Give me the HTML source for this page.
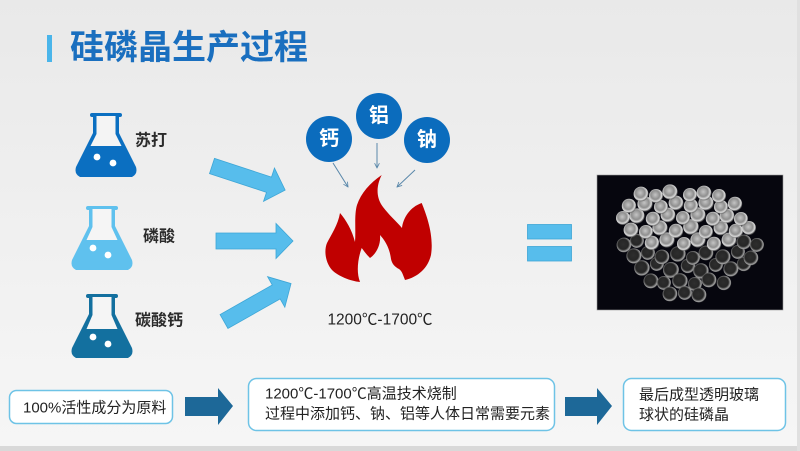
<!DOCTYPE html>
<html><head><meta charset="utf-8">
<style>
html,body{margin:0;padding:0;}
body{width:800px;height:451px;overflow:hidden;background:#efefef;}
svg{display:block;}
text{font-family:"Liberation Sans","Noto Sans CJK SC","WenQuanYi Zen Hei",sans-serif;}
</style></head>
<body>
<svg width="800" height="451" viewBox="0 0 800 451" xmlns="http://www.w3.org/2000/svg">
<defs>
<linearGradient id="bg" x1="0" y1="0" x2="0" y2="1">
<stop offset="0" stop-color="#e9e9e9"/>
<stop offset="0.6" stop-color="#f1f1f1"/>
<stop offset="1" stop-color="#f6f6f6"/>
</linearGradient>
<radialGradient id="bA" cx="0.45" cy="0.42" r="0.58">
<stop offset="0" stop-color="#c4c4c4"/>
<stop offset="0.55" stop-color="#8e8e8e"/>
<stop offset="0.82" stop-color="#dcdcdc"/>
<stop offset="1" stop-color="#555" stop-opacity="0.6"/>
</radialGradient>
<radialGradient id="bB" cx="0.45" cy="0.45" r="0.58">
<stop offset="0" stop-color="#2e2e2e"/>
<stop offset="0.6" stop-color="#262626"/>
<stop offset="0.86" stop-color="#a8a8a8"/>
<stop offset="1" stop-color="#333" stop-opacity="0.6"/>
</radialGradient>
<marker id="m" viewBox="0 0 10 10" refX="9" refY="5" markerWidth="6" markerHeight="6" orient="auto">
<path d="M1,1 L9,5 L1,9" fill="none" stroke="#5a88aa" stroke-width="1.4"/>
</marker>
</defs>

<rect x="0" y="0" width="800" height="451" fill="url(#bg)"/>
<rect x="0" y="446" width="800" height="5" fill="#d9d9d9"/>
<rect x="797" y="0" width="3" height="451" fill="#e0e0e0"/>

<!-- title -->
<rect x="47" y="35" width="5" height="27" fill="#4ab5ea"/>
<text x="70" y="48" font-size="34" font-weight="bold" fill="#1a6fbf" dominant-baseline="central">硅磷晶生产过程</text>

<!-- flask 1 -->
<g transform="translate(75,113)">
<rect x="15" y="0" width="32" height="4" rx="2" fill="#0b6fc1"/>
<path d="M18,3 L18,20 L1,54 Q-1,61 5,64 L57,64 Q63,61 61,54 L44,20 L44,3 Z" fill="#0b6fc1"/>
<path d="M21.5,3 L40.5,3 L40.5,21 L46.5,33 L15.5,33 L21.5,21 Z" fill="#f4f4f4"/>
<circle cx="22" cy="44" r="3.4" fill="#fff"/>
<circle cx="38" cy="50" r="3.4" fill="#fff"/>
</g>
<text x="135" y="141" font-size="16" font-weight="bold" fill="#2b2b2b" dominant-baseline="central">苏打</text>

<!-- flask 2 -->
<g transform="translate(71,206)">
<rect x="15" y="0" width="32" height="4" rx="2" fill="#5fc1ee"/>
<path d="M18,3 L18,20 L1,54 Q-1,61 5,64 L57,64 Q63,61 61,54 L44,20 L44,3 Z" fill="#5fc1ee"/>
<path d="M21.5,3 L40.5,3 L40.5,21 L46.5,34 L15.5,34 L21.5,21 Z" fill="#f5f5f5"/>
<circle cx="22" cy="42" r="3.4" fill="#fff"/>
<circle cx="37" cy="49" r="3.4" fill="#fff"/>
</g>
<text x="143" y="237" font-size="16" font-weight="bold" fill="#2b2b2b" dominant-baseline="central">磷酸</text>

<!-- flask 3 -->
<g transform="translate(71,294)">
<rect x="15" y="0" width="32" height="4" rx="2" fill="#13709f"/>
<path d="M18,3 L18,20 L1,54 Q-1,61 5,64 L57,64 Q63,61 61,54 L44,20 L44,3 Z" fill="#13709f"/>
<path d="M21.5,3 L40.5,3 L40.5,21 L46.5,35 L15.5,35 L21.5,21 Z" fill="#f5f5f5"/>
<circle cx="22" cy="43" r="3.4" fill="#fff"/>
<circle cx="37" cy="50" r="3.4" fill="#fff"/>
</g>
<text x="135" y="321" font-size="16" font-weight="bold" fill="#2b2b2b" dominant-baseline="central">碳酸钙</text>

<!-- light blue arrows -->
<g fill="#57bdec" stroke="#3ea6d6" stroke-width="0.8">
<polygon transform="translate(212,166) rotate(18.2)" points="0,-8 60,-8 60,-17.5 77,0 60,17.5 60,8 0,8"/>
<polygon transform="translate(216,241)" points="0,-8 60,-8 60,-17.5 77,0 60,17.5 60,8 0,8"/>
<polygon transform="translate(224,321.5) rotate(-29.5)" points="0,-8 60,-8 60,-17.5 77,0 60,17.5 60,8 0,8"/>
</g>

<!-- element circles -->
<circle cx="329" cy="139" r="23" fill="#0b6cbd"/>
<circle cx="379" cy="116" r="23" fill="#0b6cbd"/>
<circle cx="427" cy="140" r="23" fill="#0b6cbd"/>
<text x="329" y="139" font-size="20" font-weight="bold" fill="#fff" text-anchor="middle" dominant-baseline="central">钙</text>
<text x="379" y="116" font-size="20" font-weight="bold" fill="#fff" text-anchor="middle" dominant-baseline="central">铝</text>
<text x="427" y="140" font-size="20" font-weight="bold" fill="#fff" text-anchor="middle" dominant-baseline="central">钠</text>
<g stroke="#5a88aa" stroke-width="1" fill="none" marker-end="url(#m)">
<line x1="333" y1="163" x2="348" y2="187"/>
<line x1="377" y1="143" x2="377" y2="168"/>
<line x1="415" y1="170" x2="397" y2="187"/>
</g>

<!-- flame -->
<path fill="#c00000" d="M381.7,175
C376,186 376,198 383,207
C389,215 396,221 402,228
C403,218 410,207 421.7,203
C427,216 434,236 431,255
C428,268 418,277 405,280
C403,275 402,271 399,269
C395,267 392,264 391,259
C390,252 388,244 380,235
C381,245 376,254 370,258
C366,254 364,251 361.7,248
C358,258 356,272 360,282
C350,281 338,276 332,270
C325,262 324,250 327,243
C331,235 338,225 340,213
C346,220 352,230 355,242
C356,230 354,215 357,205
C361,193 370,183 381.7,175 Z"/>
<text x="380" y="320" font-size="15.5" fill="#222" text-anchor="middle" dominant-baseline="central">1200℃-1700℃</text>

<!-- equals -->
<rect x="527.5" y="224.5" width="44" height="14.5" fill="#57bdec" stroke="#3ea6d6" stroke-width="0.8"/>
<rect x="527.5" y="246.5" width="44" height="14.5" fill="#57bdec" stroke="#3ea6d6" stroke-width="0.8"/>

<!-- photo -->
<rect x="597" y="175" width="186" height="135" fill="#06060e" stroke="#9a9a9a" stroke-width="0.6"/>
<g fill="url(#bB)">
<circle cx="642" cy="268" r="7.8"/><circle cx="657" cy="264" r="7"/><circle cx="671" cy="270" r="8"/><circle cx="688" cy="266" r="7.2"/><circle cx="701" cy="271" r="7.8"/><circle cx="716" cy="265" r="7"/><circle cx="731" cy="269" r="7.6"/><circle cx="744" cy="264" r="7.2"/>
<circle cx="651" cy="281" r="7.5"/><circle cx="664" cy="283" r="7"/><circle cx="680" cy="281" r="7.8"/><circle cx="695" cy="284" r="7"/><circle cx="709" cy="280" r="7.5"/><circle cx="724" cy="283" r="7.2"/>
<circle cx="670" cy="294" r="7.4"/><circle cx="685" cy="293" r="7"/><circle cx="699" cy="295" r="7.5"/>
<circle cx="634" cy="256" r="7.6"/><circle cx="648" cy="253" r="7"/><circle cx="662" cy="257" r="7.4"/><circle cx="678" cy="254" r="7.8"/><circle cx="693" cy="258" r="7"/><circle cx="706" cy="253" r="7.4"/><circle cx="723" cy="257" r="7.6"/><circle cx="738" cy="252" r="7"/><circle cx="751" cy="258" r="7.4"/>
<circle cx="624" cy="245" r="7.4"/><circle cx="637" cy="241" r="7"/><circle cx="744" cy="242" r="7.4"/><circle cx="757" cy="245" r="7"/>
</g>
<g fill="url(#bA)">
<circle cx="652" cy="243" r="7.2"/><circle cx="667" cy="240" r="7.6"/><circle cx="684" cy="244" r="7"/><circle cx="698" cy="240" r="7.6"/><circle cx="714" cy="244" r="7.2"/><circle cx="729" cy="240" r="7.4"/>
<circle cx="631" cy="230" r="7.4"/><circle cx="646" cy="232" r="7"/><circle cx="660" cy="228" r="7.6"/><circle cx="676" cy="231" r="7.2"/><circle cx="691" cy="227" r="7.8"/><circle cx="706" cy="232" r="7"/><circle cx="721" cy="228" r="7.4"/><circle cx="736" cy="231" r="7.2"/><circle cx="749" cy="228" r="7"/>
<circle cx="623" cy="218" r="7"/><circle cx="637" cy="216" r="7.6"/><circle cx="653" cy="219" r="7.2"/><circle cx="668" cy="215" r="7.4"/><circle cx="683" cy="218" r="7"/><circle cx="698" cy="215" r="7.6"/><circle cx="713" cy="219" r="7.2"/><circle cx="727" cy="216" r="7.4"/><circle cx="741" cy="219" r="7"/>
<circle cx="629" cy="206" r="7.2"/><circle cx="645" cy="204" r="7.6"/><circle cx="661" cy="207" r="7"/><circle cx="676" cy="203" r="7.4"/><circle cx="691" cy="206" r="7.2"/><circle cx="706" cy="203" r="7.6"/><circle cx="721" cy="207" r="7"/><circle cx="735" cy="204" r="7.2"/>
<circle cx="641" cy="194" r="7.4"/><circle cx="656" cy="196" r="7"/><circle cx="670" cy="192" r="7.6"/><circle cx="690" cy="195" r="7"/><circle cx="704" cy="193" r="7.4"/><circle cx="719" cy="196" r="7"/>
</g>

<!-- bottom flow -->
<g fill="#fff" stroke="#6ec3e6" stroke-width="1.5">
<rect x="9.5" y="390.5" width="163" height="33" rx="7"/>
<rect x="248.5" y="378.5" width="306" height="52" rx="8"/>
<rect x="623.5" y="378.5" width="162" height="52" rx="8"/>
</g>
<g fill="#1d6898">
<polygon points="185,397 218,397 218,388 233,406 218,425 218,416 185,416"/>
<polygon points="565,397 597,397 597,388 612,406 597,425 597,416 565,416"/>
</g>
<g font-size="15" fill="#222" dominant-baseline="central">
<text x="23" y="408">100%活性成分为原料</text>
<text x="265" y="394">1200℃-1700℃高温技术烧制</text>
<text x="265" y="414">过程中添加钙、钠、铝等人体日常需要元素</text>
<text x="639" y="395">最后成型透明玻璃</text>
<text x="639" y="415">球状的硅磷晶</text>
</g>
</svg>
</body></html>
